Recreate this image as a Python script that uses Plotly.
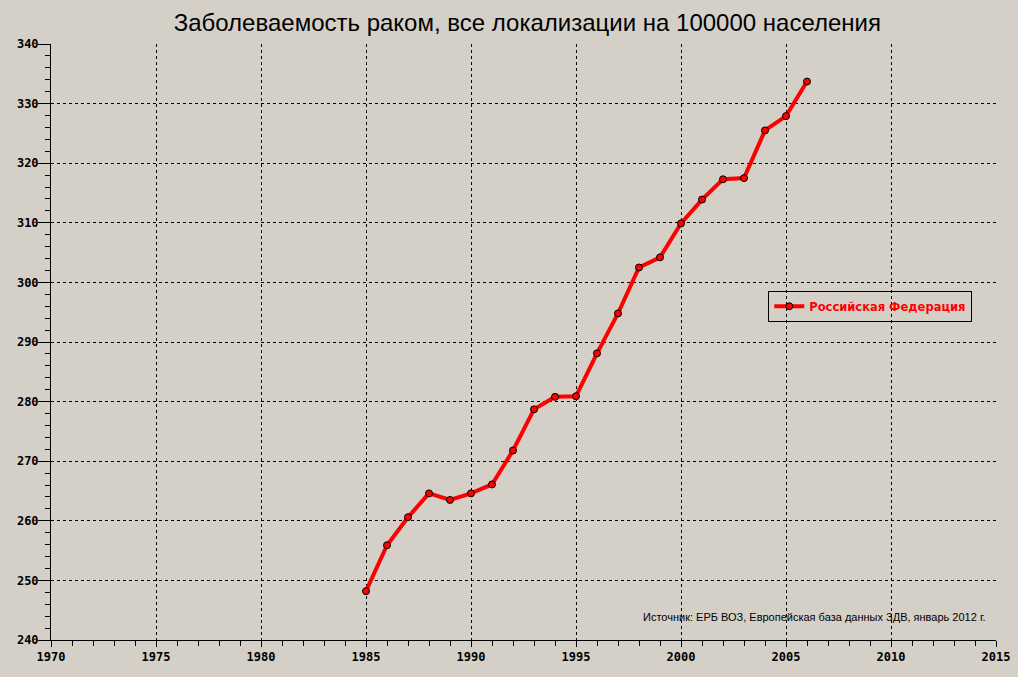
import plotly.graph_objects as go

# Daten
jahre = [1985, 1986, 1987, 1988, 1989, 1990, 1991, 1992, 1993, 1994, 1995,
         1996, 1997, 1998, 1999, 2000, 2001, 2002, 2003, 2004, 2005, 2006]
werte = [248.2, 255.9, 260.6, 264.6, 263.5, 264.6, 266.1, 271.8, 278.7, 280.8, 280.9,
         288.1, 294.8, 302.5, 304.2, 309.9, 313.9, 317.3, 317.5, 325.5, 327.9, 333.7]

serien_name = "Российская Федерация"
titel = "Заболеваемость раком, все локализации на 100000 населения"
quelle = "Источник: ЕРБ ВОЗ, Европейская база данных ЗДВ, январь 2012 г."

hintergrund = "#D4D0C8"


def make_plot():

    # Linie mit Markern
    fig = go.Figure()
    fig.add_trace(go.Scatter(
        x=jahre, y=werte, name=serien_name, mode="lines+markers",
        line=dict(color="#FF0000", width=4),
        marker=dict(color="#FF0000", size=7, line=dict(color="black", width=1))))

    # Achsen
    achse = dict(
        showline=True, linecolor="black", linewidth=1,
        showgrid=True, gridcolor="black", gridwidth=1, griddash="dot",
        zeroline=False, ticks="outside", tickcolor="black",
        tickfont=dict(family="DejaVu Sans Mono", size=12, color="black", weight="bold"))

    fig.update_xaxes(achse, range=[1970, 2015], dtick=5, tick0=1970, ticklen=6,
                     minor=dict(dtick=1, ticks="outside", ticklen=5, tickcolor="black", showgrid=False))
    fig.update_yaxes(achse, range=[240, 340], dtick=10, tick0=240, ticklen=12,
                     ticklabelstandoff=-3,
                     minor=dict(dtick=2, ticks="outside", ticklen=5, tickcolor="black", showgrid=False))

    # Layout
    fig.update_layout(
        width=1018, height=677,
        paper_bgcolor=hintergrund, plot_bgcolor=hintergrund,
        margin=dict(l=51, r=22, t=44, b=37, autoexpand=False),
        title=dict(text=titel, x=0.518, y=0.967, xanchor="center", yanchor="middle",
                   font=dict(family="Liberation Sans", size=24, color="black")),
        legend=dict(x=0.759, y=0.586, xanchor="left", yanchor="top",
                    bgcolor="rgba(0,0,0,0)", bordercolor="black", borderwidth=1,
                    font=dict(family="DejaVu Sans", size=11.5, color="#FF0000", weight="bold")),
        showlegend=True)

    # Quellenangabe
    fig.add_annotation(text=quelle, xref="paper", yref="paper", x=0.992, y=0.0386,
                       xanchor="right", yanchor="middle", showarrow=False,
                       font=dict(family="Liberation Sans", size=11, color="black"))

    return fig


fig = make_plot()
# Seitenrand entfernen, damit das Bild bei (0,0) beginnt
fig.write_html("out.html", config={"displayModeBar": False},
               post_script="document.body.style.margin='0';"
                           "document.body.style.background='" + hintergrund + "';")
